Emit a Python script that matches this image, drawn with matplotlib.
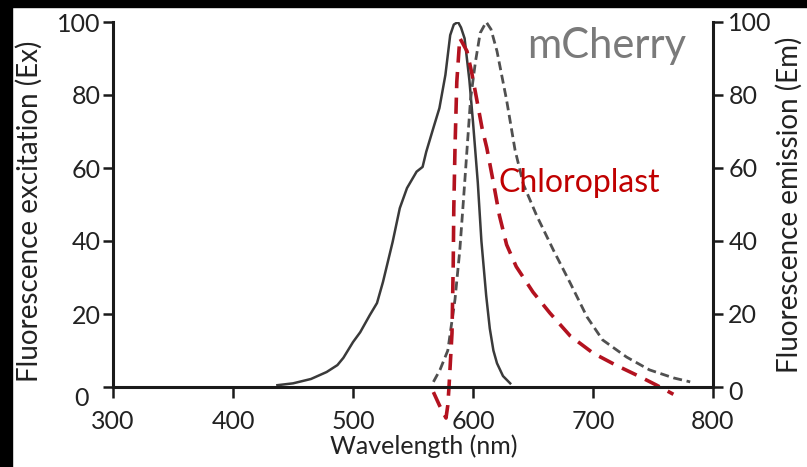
import matplotlib
matplotlib.use("Agg")
import matplotlib.pyplot as plt
from matplotlib.patches import Rectangle
from matplotlib.transforms import ScaledTranslation

# mCherry excitation (solid)
ex_nm = [437, 450, 465, 478, 487, 492, 500, 506, 514, 520, 525, 533, 539, 545, 553, 558,
         561, 567, 572, 577, 581, 584, 587.5, 590, 593, 597, 600, 604, 607, 611, 614, 617,
         620, 625, 631]
ex_val = [0.5, 1, 2.2, 4.1, 6, 8, 12.3, 15, 19.7, 23, 28.8, 39.7, 49, 54.5, 59, 60.3,
          64.4, 71, 76.4, 85.5, 96.4, 99.3, 100, 98.5, 95.5, 84, 72.6, 56, 40, 25, 16, 10,
          6.5, 3, 1]

# mCherry emission (grey dashed)
em_nm = [567, 572.5, 579, 585, 589, 592, 595, 598, 602, 606, 611, 615, 620, 628, 635,
         642, 653, 667, 681, 695, 708, 728, 747, 767, 781]
em_val = [1.4, 4.7, 10, 24, 37.5, 51, 65, 79, 89, 97, 100, 98, 92, 78.6, 65,
          55.5, 47, 37.5, 28.5, 19.2, 12.9, 8.2, 4.7, 2.5, 1.4]

# chloroplast autofluorescence (red dashed, overlay)
chl_nm = [567, 572, 577.5, 579, 580, 582.5, 583.5, 584, 585, 586.5, 589, 595, 599, 603,
          607.5, 611.5, 617, 622, 628, 636, 650, 664, 681, 700, 719, 738, 753, 767]
chl_val = [-1.4, -5, -8.5, -5, 0, 14.8, 33, 49, 65.5, 83.6, 95.6, 92, 86, 79,
           71, 65.5, 56, 47, 39, 33, 26, 20.3, 14, 9.3, 6, 3, 0.5, -2]

xticks = [300, 400, 500, 600, 700, 800]
yticks = [0, 20, 40, 60, 80, 100]

plt.rcParams["font.family"] = ["Lato", "DejaVu Sans"]
txt = "#222222"

fig = plt.figure(figsize=(8.07, 4.67), dpi=100)
ax = fig.add_axes([113/807, 80/467, 600/807, 365/467])
ax2 = ax.twinx()

ax.plot(ex_nm, ex_val, color="#3a3a3a", lw=1.8)
ax.plot(em_nm, em_val, color="#505050", lw=2, dashes=(3.2, 1.7))
ax.plot(chl_nm, chl_val, color="#b3121f", lw=2.6, dashes=(4.5, 2.6), clip_on=False)

for a in (ax, ax2):
    a.set_xlim(300, 800)
    a.set_ylim(0, 100)
    a.set_yticks(yticks)
    a.spines["top"].set_visible(False)
    for s in a.spines.values():
        s.set_linewidth(2.2)
        s.set_color("#1a1a1a")
    a.tick_params(width=1.8, length=7, labelsize=18, colors="#1a1a1a", labelcolor=txt, pad=2)
ax.tick_params(axis="x", length=8, pad=8.5)
ax2.tick_params(axis="y", pad=4)
ax.spines["right"].set_visible(False)
ax2.spines["left"].set_visible(False)
ax2.spines["bottom"].set_visible(False)
ax.set_xticks(xticks)

# the zero labels sit a little lower in the original
fig.canvas.draw()
ax.get_yticklabels()[0].set_transform(
    ax.get_yticklabels()[0].get_transform() + ScaledTranslation(-12/100, -9/100, fig.dpi_scale_trans))
ax2.get_yticklabels()[0].set_transform(
    ax2.get_yticklabels()[0].get_transform() + ScaledTranslation(0, -4/100, fig.dpi_scale_trans))

ax.set_xlabel("Wavelength (nm)", fontsize=18, color=txt)
ax.set_ylabel("Fluorescence excitation (Ex)", fontsize=20, color=txt)
ax2.set_ylabel("Fluorescence emission (Em)", fontsize=20, color=txt)
ax.xaxis.set_label_coords(0.518, -0.13)
ax.yaxis.set_label_coords(-0.117, 0.48)
ax2.yaxis.set_label_coords(1.105, 0.5)

ax.text(0.69, 0.935, "mCherry", transform=ax.transAxes, fontsize=30, color="#7a7a7a",
        va="center", ha="left")
ax.text(0.642, 0.56, "Chloroplast", transform=ax.transAxes, fontsize=23, color="#c00000",
        va="center", ha="left")

# black frame strips on top and left edge of the original image
fig.add_artist(Rectangle((0, 1 - 7/467), 1, 7/467, transform=fig.transFigure,
                         color="black", zorder=10))
fig.add_artist(Rectangle((0, 0), 12/807, 1, transform=fig.transFigure,
                         color="black", zorder=10))

fig.savefig("out.png", dpi=100)
